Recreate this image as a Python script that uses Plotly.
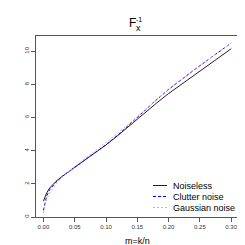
import plotly.graph_objects as go

m = [0, 0.0025, 0.005, 0.01, 0.015, 0.02, 0.03, 0.04, 0.05, 0.06, 0.07, 0.08, 0.09, 0.10,
     0.12, 0.14, 0.16, 0.18, 0.20, 0.22, 0.24, 0.26, 0.28, 0.30]
noiseless = [0.95, 1.25, 1.45, 1.75, 1.95, 2.15, 2.45, 2.75, 3.0, 3.27, 3.53, 3.8, 4.07, 4.35,
             4.95, 5.6, 6.23, 6.85, 7.45, 8.0, 8.55, 9.1, 9.65, 10.15]
clutter = [0.4, 0.95, 1.25, 1.65, 1.9, 2.1, 2.45, 2.75, 3.0, 3.27, 3.53, 3.8, 4.07, 4.36,
           4.98, 5.68, 6.38, 7.05, 7.7, 8.3, 8.85, 9.4, 9.95, 10.5]
gaussian = [0.25, 0.75, 1.05, 1.45, 1.75, 2.0, 2.4, 2.75, 3.05, 3.33, 3.62, 3.9, 4.18, 4.47,
            5.1, 5.72, 6.4, 7.05, 7.7, 8.3, 8.85, 9.4, 9.95, 10.5]
series_names = ["Noiseless", "Clutter noise", "Gaussian noise"]
x_ticks = [0.0, 0.05, 0.10, 0.15, 0.20, 0.25, 0.30]
x_tick_labels = ["0.00", "0.05", "0.10", "0.15", "0.20", "0.25", "0.30"]
y_ticks = [0, 2, 4, 6, 8, 10]

FONT = "Liberation Sans, Arial, sans-serif"
styles = [dict(color="#222222", width=1),
          dict(color="#0000ff", width=1, dash="3px,2px"),
          dict(color="#ff9fb2", width=1, dash="2px,2px")]

fig = go.Figure()
for name, ys, st in zip(series_names, [noiseless, clutter, gaussian], styles):
    fig.add_trace(go.Scatter(x=m, y=ys, mode="lines", name=name, line=st, showlegend=False))

axis_common = dict(showline=True, linecolor="#555555", linewidth=1, mirror=True,
                   showgrid=False, zeroline=False, ticks="outside", ticklen=4,
                   tickcolor="#555555", tickwidth=1,
                   tickfont=dict(size=6, color="#333333", family=FONT))

fig.update_layout(
    width=245, height=245,
    margin=dict(l=28, r=14, t=28, b=36),
    paper_bgcolor="white", plot_bgcolor="white",
    font=dict(family=FONT, color="#000000"),
    xaxis=dict(range=[-0.0119, 0.3125], tickvals=x_ticks, ticktext=x_tick_labels, **axis_common),
    yaxis=dict(range=[0, 10.92], tickvals=y_ticks, tickangle=-90, **axis_common),
    showlegend=False,
)

# manual legend (bottom-right, no box)
def px_x(p):
    return (p - 28) / 203.0

def px_y(p):
    return (209 - p) / 181.0

for i, (name, st) in enumerate(zip(series_names, styles)):
    yy = px_y(177.5 + 11 * i)
    fig.add_shape(type="line", xref="paper", yref="paper",
                  x0=px_x(145), x1=px_x(159), y0=yy, y1=yy, line=st, layer="above")
    fig.add_annotation(text=name, xref="paper", yref="paper", x=px_x(162.5), y=yy,
                       showarrow=False, xanchor="left", yanchor="middle",
                       font=dict(size=9, family=FONT, color="#000000"))

fig.add_annotation(text="F", xref="paper", yref="paper", x=0.473, y=1.072,
                   showarrow=False, font=dict(size=12, family=FONT), xanchor="center", yanchor="middle")
fig.add_annotation(text="x", xref="paper", yref="paper", x=0.503, y=1.045,
                   showarrow=False, font=dict(size=9, family=FONT), xanchor="center", yanchor="middle")
fig.add_annotation(text="-1", xref="paper", yref="paper", x=0.505, y=1.092,
                   showarrow=False, font=dict(size=7, family=FONT), xanchor="center", yanchor="middle")
fig.add_annotation(text="m=k/n", xref="paper", yref="paper", x=0.5, y=-0.133,
                   showarrow=False, font=dict(size=9, family=FONT), xanchor="center", yanchor="middle")

fig.write_html("out.html")
